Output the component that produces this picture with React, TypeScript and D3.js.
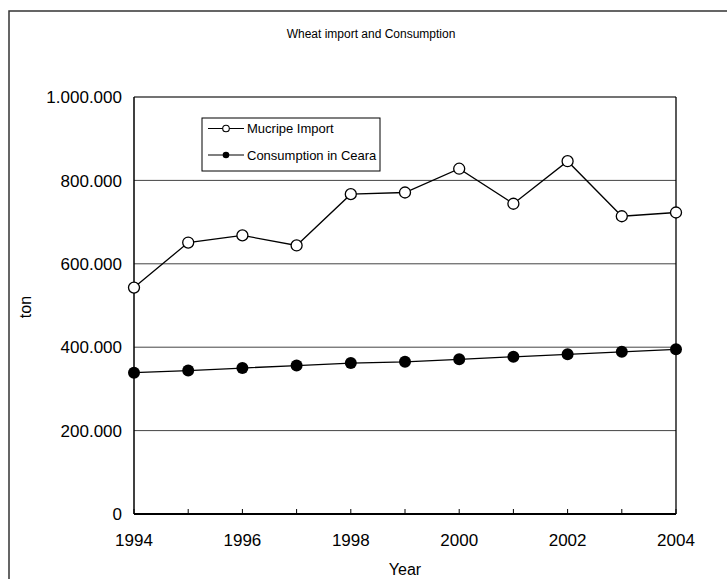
import React from "react";
import * as d3 from "d3";

// Wheat imports through Mucripe vs consumption in Ceará (tons)
const years = [1994, 1995, 1996, 1997, 1998, 1999, 2000, 2001, 2002, 2003, 2004];
const mucripeImport = [543000, 651000, 668000, 644000, 767000, 771000, 828000, 744000, 846000, 714000, 723000];
const consumptionCeara = [339000, 344000, 350000, 356000, 362000, 365000, 371000, 377000, 383000, 389000, 395000];
const yTicks = [0, 200000, 400000, 600000, 800000, 1000000];
const xTickLabels = [1994, 1996, 1998, 2000, 2002, 2004];
const seriesNames = ["Mucripe Import", "Consumption in Ceara"];

const W = 727;
const H = 579;
const M = { left: 134, right: 676, top: 97, bottom: 514 };
const FONT = "'Liberation Sans', Arial, Helvetica, sans-serif";

const fmt = (v: number) =>
  v === 0 ? "0" : d3.format(",")(v).replace(/,/g, ".");

export default function App() {
  const x = d3.scaleLinear().domain([1994, 2004]).range([M.left, M.right]);
  const y = d3.scaleLinear().domain([0, 1000000]).range([M.bottom, M.top]);

  const line = d3
    .line<number>()
    .x((_, i) => x(years[i]))
    .y((d) => y(d));

  const legend = { x: 202, y: 118, w: 178, h: 53 };
  const legendRows = [legend.y + 10.5, legend.y + 37];

  return (
    <svg
      width={W}
      height={H}
      style={{ position: "absolute", left: 0, top: 0, background: "#fff" }}
      fontFamily={FONT}
    >
      {/* outer chart frame */}
      <rect x={9} y={11} width={W + 20} height={H + 20} fill="none" stroke="#333" strokeWidth={1.5} />

      <text x={371} y={38} fontSize={12} textAnchor="middle" fill="#000">
        Wheat import and Consumption
      </text>

      {/* gridlines */}
      {yTicks.slice(1).map((t) => (
        <line
          key={"g" + t}
          x1={M.left}
          x2={M.right}
          y1={y(t)}
          y2={y(t)}
          stroke="#444"
          strokeWidth={t === 1000000 ? 1.6 : 1}
        />
      ))}
      {/* right plot border */}
      <line x1={M.right} x2={M.right} y1={M.top} y2={M.bottom} stroke="#000" strokeWidth={1.3} />

      {/* axes */}
      <line x1={M.left} x2={M.left} y1={M.top} y2={M.bottom} stroke="#000" strokeWidth={1.5} />
      <line x1={M.left} x2={M.right} y1={M.bottom} y2={M.bottom} stroke="#000" strokeWidth={1.8} />
      {years.map((yr) => (
        <line
          key={"t" + yr}
          x1={x(yr)}
          x2={x(yr)}
          y1={M.bottom}
          y2={M.bottom - 5}
          stroke="#000"
          strokeWidth={1}
        />
      ))}

      {yTicks.map((t) => (
        <text key={"yl" + t} x={122} y={y(t)} dy="0.36em" fontSize={17} textAnchor="end" fill="#000">
          {fmt(t)}
        </text>
      ))}
      {xTickLabels.map((yr) => (
        <text key={"xl" + yr} x={x(yr)} y={546} fontSize={17} textAnchor="middle" fill="#000">
          {yr}
        </text>
      ))}

      <text x={405} y={575} fontSize={16} textAnchor="middle" fill="#000">
        Year
      </text>
      <text
        transform={`translate(25,307) rotate(-90)`}
        dy="0.35em"
        fontSize={16}
        textAnchor="middle"
        fill="#000"
      >
        ton
      </text>

      {/* series */}
      <path d={line(consumptionCeara) || ""} fill="none" stroke="#000" strokeWidth={1.3} />
      {consumptionCeara.map((v, i) => (
        <circle key={"c" + i} cx={x(years[i])} cy={y(v)} r={6} fill="#000" />
      ))}
      <path d={line(mucripeImport) || ""} fill="none" stroke="#000" strokeWidth={1.3} />
      {mucripeImport.map((v, i) => (
        <circle key={"m" + i} cx={x(years[i])} cy={y(v)} r={5.5} fill="#fff" stroke="#000" strokeWidth={1.3} />
      ))}

      {/* legend */}
      <rect x={legend.x} y={legend.y} width={legend.w} height={legend.h} fill="#fff" stroke="#000" strokeWidth={1} />
      {seriesNames.map((name, i) => (
        <g key={name}>
          <line x1={208} x2={244} y1={legendRows[i]} y2={legendRows[i]} stroke="#000" strokeWidth={1.2} />
          {i === 0 ? (
            <circle cx={226} cy={legendRows[i]} r={3.3} fill="#fff" stroke="#000" strokeWidth={1.1} />
          ) : (
            <circle cx={226} cy={legendRows[i]} r={3.3} fill="#000" />
          )}
          <text x={247} y={legendRows[i]} dy="0.35em" fontSize={13} fill="#000">
            {name}
          </text>
        </g>
      ))}
    </svg>
  );
}
